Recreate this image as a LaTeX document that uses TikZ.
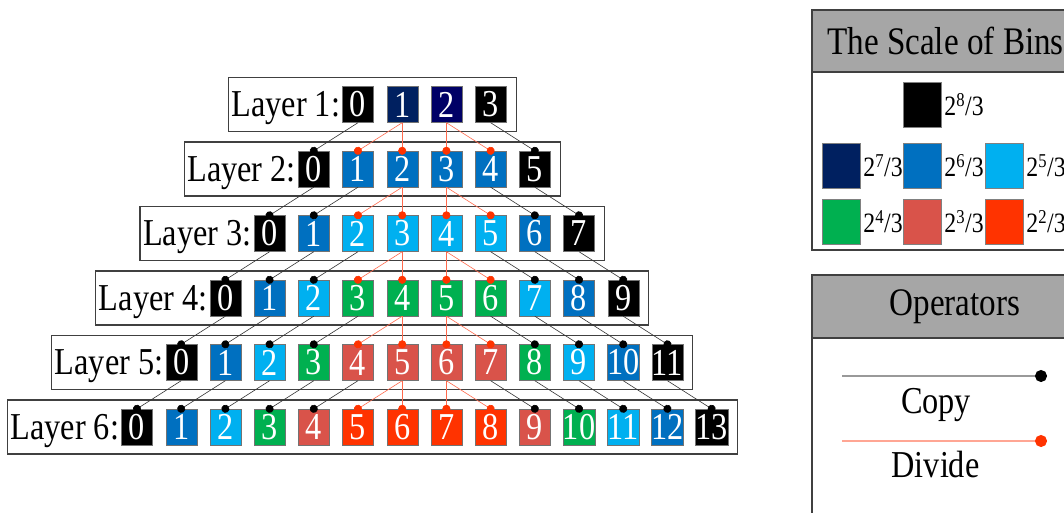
\documentclass[tikz,border=0pt]{standalone}
\usepackage{fontspec}
\setmainfont{Liberation Serif}[FakeStretch=0.85]
\usetikzlibrary{positioning,arrows.meta,calc}
\definecolor{cK}{HTML}{000000}
\definecolor{cN}{HTML}{002060}
\definecolor{cNb}{HTML}{000066}
\definecolor{cB}{HTML}{0070C0}
\definecolor{cS}{HTML}{00B0F0}
\definecolor{cG}{HTML}{00B050}
\definecolor{cR}{HTML}{D9534A}
\definecolor{cO}{HTML}{FF3300}
\definecolor{cDiv}{HTML}{FF6A4D}
\definecolor{cHead}{HTML}{A6A6A6}
\tikzset{
  bin/.style={draw=black!55,line width=0.4pt,minimum width=31pt,minimum height=36pt,inner sep=0pt,text=white,font=\fontsize{38}{40}\selectfont},
  lab/.style={inner sep=0pt,font=\fontsize{38}{40}\selectfont},
  frame/.style={draw=black!75,line width=1.1pt},
  cpy/.style={draw=black!80,line width=0.6pt,-{Circle[length=8pt,black]},shorten >=-4pt},
  dvd/.style={draw=cDiv,line width=0.6pt,-{Circle[length=8pt,cO]},shorten >=-4pt},
  panel/.style={draw=black!75,line width=1.1pt},
  hdr/.style={panel,fill=cHead,inner sep=0pt,font=\fontsize{39}{40}\selectfont},
  swatch/.style={draw=black!50,line width=0.4pt,minimum width=38pt,minimum height=45pt,inner sep=0pt},
  scl/.style={inner sep=0pt,font=\fontsize{28}{30}\selectfont},
  lgd/.style={inner sep=0pt,font=\fontsize{38}{40}\selectfont}}
\newcommand{\scale}[1]{2\textsuperscript{#1}/3}

\begin{document}
\begin{tikzpicture}[x=1pt,y=-1pt]
\useasboundingbox (0,0) rectangle (1064,513);
% layers of bins
\foreach \k/\row in {1/{cK,cN,cNb,cK},
                     2/{cK,cB,cB,cB,cB,cK},
                     3/{cK,cB,cS,cS,cS,cS,cB,cK},
                     4/{cK,cB,cS,cG,cG,cG,cG,cS,cB,cK},
                     5/{cK,cB,cS,cG,cR,cR,cR,cR,cG,cS,cB,cK},
                     6/{cK,cB,cS,cG,cR,cO,cO,cO,cO,cR,cG,cS,cB,cK}}{
  \foreach \c [count=\i from 0] in \row
    \node[bin,fill=\c] (b\k-\i) at ({137+44.2*(\i+6-\k)},{104.5+64.5*(\k-1)}) {\i};
  \node[lab,anchor=base east] (lab\k) at ([xshift=-2pt]b\k-0.base west) {Layer \k:};
  \pgfmathtruncatemacro\last{2*\k+1}
  \draw[frame] ($(lab\k.west |- b\k-0.center)+(-3,-27)$) rectangle ($(b\k-\last.center)+(25.5,27)$);
}
% copy / divide between layers
\foreach \k in {1,...,5}{
  \pgfmathtruncatemacro\nx{\k+1}
  \pgfmathtruncatemacro\last{2*\k+1}
  \foreach \i in {0,...,\last}{
    \pgfmathtruncatemacro\ja{2*\i-\k}
    \pgfmathtruncatemacro\jb{2*\i-\k+1}
    \pgfmathtruncatemacro\jc{\i+2}
    \ifnum\i<\k
      \draw[cpy] (b\k-\i.south) -- (b\nx-\i.north);
    \else\ifnum\i>\numexpr\k+1\relax
      \draw[cpy] (b\k-\i.south) -- (b\nx-\jc.north);
    \else
      \draw[dvd] (b\k-\i.south) -- (b\nx-\ja.north);
      \draw[dvd] (b\k-\i.south) -- (b\nx-\jb.north);
    \fi\fi
  }
}
% legend: scale of bins
\draw[panel] (812,72) rectangle (1100,250);
\node[hdr,minimum width=267pt,minimum height=62pt] (binHd) at (945.5,41) {The Scale of Bins};
\node[swatch,fill=cK] (sw8) at (922,104.5) {};
\node[swatch,fill=cN] (sw7) at (841,165.5) {};
\node[swatch,fill=cB] (sw6) at (922,165.5) {};
\node[swatch,fill=cS] (sw5) at (1004,165.5) {};
\node[swatch,fill=cG] (sw4) at (841,222) {};
\node[swatch,fill=cR] (sw3) at (922,222) {};
\node[swatch,fill=cO] (sw2) at (1004,222) {};
\foreach \n in {2,...,8}
  \node[scl,right=3pt of sw\n] (sc\n) {\scale{\n}};
% legend: operators
\draw[panel] (812,338) rectangle (1110,540);
\node[hdr,minimum width=286pt,minimum height=63pt] (opHd) at (955,306.5) {Operators};
\coordinate (cpyL) at (842,376);
\coordinate (cpyR) at (1041,376);
\coordinate (dvdL) at (842,441);
\coordinate (dvdR) at (1041,441);
\draw[draw=black!40,line width=1.2pt,-{Circle[length=12pt,black]},shorten >=-6pt] (cpyL) -- (cpyR);
\draw[draw=cDiv!60,line width=1.2pt,-{Circle[length=12pt,cO]},shorten >=-6pt] (dvdL) -- (dvdR);
\node[lgd,anchor=base] (cpyTxt) at (936,413) {Copy};
\node[lgd,anchor=base] (dvdTxt) at (935.5,477) {Divide};
\end{tikzpicture}
\end{document}
